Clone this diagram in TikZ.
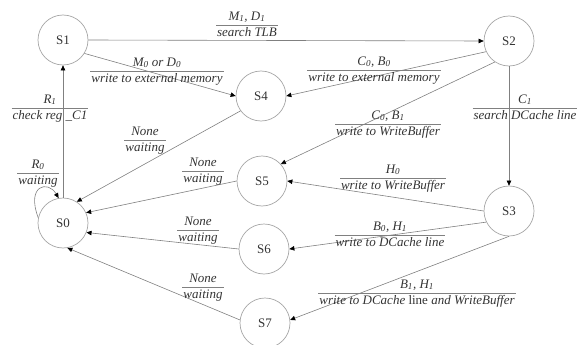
\documentclass[tikz,border=0pt]{standalone}
\usepackage{fontspec}
\setmainfont{Liberation Serif}
\usepackage{colortbl}
\usetikzlibrary{arrows.meta}
\arrayrulecolor{gray}
\renewcommand{\arraystretch}{1.05}
\newcommand{\trans}[2]{\begin{tabular}{@{\hspace{1pt}}c@{\hspace{1pt}}}#1\\\hline #2\end{tabular}}
\newcommand{\sbs}[1]{\textsubscript{#1}}
\begin{document}
\begin{tikzpicture}[x=1pt,y=-1pt,
  state/.style={circle,draw=gray!70,line width=0.7pt,minimum size=50pt,inner sep=0pt,
    text=black!80,font=\fontsize{13}{15}\selectfont},
  label text/.style={inner sep=0pt,text=black!80,font=\fontsize{13}{15}\selectfont\itshape},
  link/.style={draw=gray,line width=0.6pt,-{Triangle[black,length=5pt,width=4.5pt]}},
]
  \useasboundingbox (0,0) rectangle (578,345);
  \node[state] (S0) at (63,223) {S0};
  \node[state] (S1) at (63,40) {S1};
  \node[state] (S2) at (509,41) {S2};
  \node[state] (S3) at (509,211) {S3};
  \node[state] (S4) at (261,96) {S4};
  \node[state] (S5) at (262,181) {S5};
  \node[state] (S6) at (264,249) {S6};
  \node[state] (S7) at (265,323) {S7};

  \draw[link] (S0.168) .. controls (26,185) and (48,180) .. (S0.100);
  \draw[link] (S0.north) -- (S1.south);
  \draw[link] (S1.east) -- (S2.west);
  \draw[link] (S1.-32) -- (S4.west);
  \draw[link] (S2.205) -- (S4.east);
  \draw[link] (S2.236) -- (S5.42);
  \draw[link] (S2.south) -- (S3.north);
  \draw[link] (S3.west) -- (S5.east);
  \draw[link] (S3.206) -- (S6.east);
  \draw[link] (S3.south) -- (S7.7);
  \draw[link] (S4.216) -- (S0.57);
  \draw[link] (S5.west) -- (S0.24);
  \draw[link] (S6.west) -- (S0.-22);
  \draw[link] (S7.173) -- (S0.-80);

  \node[label text] (l00) at (38,173) {\trans{R\sbs{0}}{waiting}};
  \node[label text] (l01) at (50,108) {\trans{R\sbs{1}}{check reg \_C1}};
  \node[label text] (l12) at (247,25) {\trans{M\sbs{1}, D\sbs{1}}{search TLB}};
  \node[label text] (l14) at (157,71) {\trans{M\sbs{0} or D\sbs{0}}{write to external memory}};
  \node[label text] (l24) at (374,70) {\trans{C\sbs{0}, B\sbs{0}}{write to external memory}};
  \node[label text] (l25) at (388,124) {\trans{C\sbs{0}, B\sbs{1}}{write to WriteBuffer}};
  \node[label text] (l23) at (525,108) {\trans{C\sbs{1}}{search DCache line}};
  \node[label text] (l35) at (393,178) {\trans{H\sbs{0}}{write to WriteBuffer}};
  \node[label text] (l36) at (390,235) {\trans{B\sbs{0}, H\sbs{1}}{write to DCache line}};
  \node[label text] (l37) at (417,293) {\trans{B\sbs{1}, H\sbs{1}}{write to DCache \textup{line} and WriteBuffer}};
  \node[label text] (l40) at (145,140) {\trans{None}{waiting}};
  \node[label text] (l50) at (203,171) {\trans{None}{waiting}};
  \node[label text] (l60) at (198,230) {\trans{None}{waiting}};
  \node[label text] (l70) at (203,287) {\trans{None}{waiting}};
\end{tikzpicture}
\end{document}
